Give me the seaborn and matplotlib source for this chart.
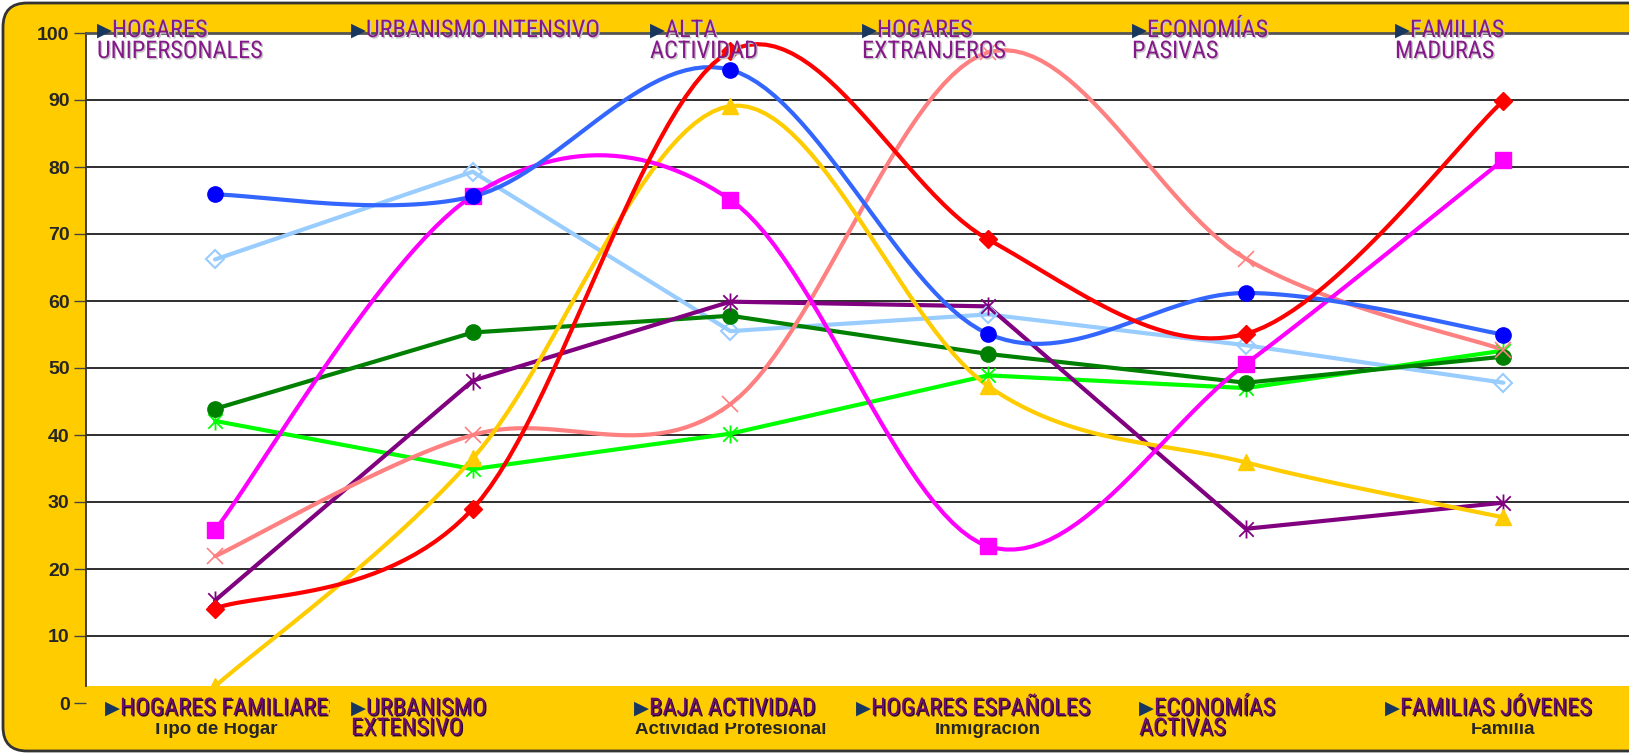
import numpy as np
import pandas as pd
import matplotlib
matplotlib.use("Agg")
import matplotlib.pyplot as plt
import seaborn as sns
from matplotlib import font_manager as fm
from matplotlib.patches import FancyBboxPatch
from matplotlib.path import Path
from matplotlib.transforms import IdentityTransform, Bbox
import matplotlib.patheffects as pe

# ---------------------------------------------------------------- data
categories = ["Tipo de Hogar", "", "Actividad Profesional", "Inmigración", "", "Familia"]

top_labels = ["HOGARES\nUNIPERSONALES", "URBANISMO INTENSIVO", "ALTA\nACTIVIDAD",
              "HOGARES\nEXTRANJEROS", "ECONOMÍAS\nPASIVAS", "FAMILIAS\nMADURAS"]
bottom_labels = ["HOGARES FAMILIARES", "URBANISMO\nEXTENSIVO", "BAJA ACTIVIDAD",
                 "HOGARES ESPAÑOLES", "ECONOMÍAS\nACTIVAS", "FAMILIAS JÓVENES"]

serie_roja = [14.1, 29.0, 97.3, 69.2, 55.1, 89.9]
serie_azul = [75.9, 75.6, 94.5, 55.1, 61.2, 55.0]
serie_celeste = [66.2, 79.3, 55.5, 58.0, 53.4, 47.8]
serie_magenta = [25.8, 75.7, 75.1, 23.4, 50.6, 81.1]
serie_salmon = [21.9, 40.0, 44.6, 97.1, 66.3, 52.7]
serie_amarilla = [2.5, 36.5, 89.1, 47.3, 35.9, 27.7]
serie_morada = [15.3, 48.1, 59.9, 59.2, 26.0, 29.9]
serie_verde = [43.9, 55.3, 57.8, 52.1, 47.8, 51.7]
serie_verde_claro = [42.1, 34.9, 40.2, 48.9, 47.0, 52.6]

# ---------------------------------------------------------------- fonts
sns.set_style("white")
plt.rcParams["font.family"] = ["Liberation Sans", "DejaVu Sans"]


def pick_narrow():
    prefs = ["Liberation Sans Narrow", "Roboto Condensed", "Open Sans Condensed"]
    by_name = {}
    for f in fm.fontManager.ttflist:
        if f.style == "normal":
            by_name.setdefault(f.name, []).append(f)
    for name in prefs:
        if name in by_name:
            regs = sorted(by_name[name], key=lambda f: abs(int(f.weight) - 400)
                          if str(f.weight).isdigit() else 0)
            return regs[0].fname
    for f in fm.fontManager.ttflist:
        if ("Condensed" in f.fname or "Narrow" in f.fname) and "Bold" not in f.fname \
                and "Italic" not in f.fname:
            return f.fname
    return None


narrow_path = pick_narrow()


def label_font(size):
    if narrow_path:
        return fm.FontProperties(fname=narrow_path, size=size)
    return fm.FontProperties(family="Liberation Sans", size=size * 0.82)


# ---------------------------------------------------------------- figure
W, H = 1629, 754
YELLOW = "#FFCC00"
fig = plt.figure(figsize=(W / 100, H / 100), dpi=100)
fig.patch.set_facecolor("white")

frame = FancyBboxPatch((3, 3), W + 80, H - 6,
                       boxstyle="round,pad=0,rounding_size=24",
                       transform=IdentityTransform(), facecolor=YELLOW,
                       edgecolor="#333333", linewidth=2, zorder=-1)
fig.add_artist(frame)

x_left, x_right = 86.2, 1632.3
y_top, y_bot = 33.0, 703.0
ax = fig.add_axes([x_left / W, (H - y_bot) / H, (x_right - x_left) / W, (y_bot - y_top) / H])
ax.set_facecolor("white")
ax.set_xlim(-0.5, 5.5)
ax.set_ylim(0, 100)

xpos = np.arange(len(categories))


def smooth(xv, yv, steps=30):
    p = np.column_stack([xv, yv]).astype(float)
    n = len(p)
    out = [p[0]]
    t = np.linspace(0, 1, steps)[1:, None]
    for i in range(n - 1):
        p0, p1, p2, p3 = p[max(i - 1, 0)], p[i], p[i + 1], p[min(i + 2, n - 1)]
        c1 = p1 + (p2 - p0) / 6
        c2 = p2 - (p3 - p1) / 6
        seg = (1 - t) ** 3 * p1 + 3 * (1 - t) ** 2 * t * c1 + 3 * (1 - t) * t ** 2 * c2 + t ** 3 * p2
        out.extend(seg)
    return np.array(out)


star = Path([(-1, -1), (1, 1), (-1, 1), (1, -1), (0, -1.25), (0, 1.25)],
            [Path.MOVETO, Path.LINETO] * 3)

series = [
    (serie_celeste, dict(color="#99CCFF", smooth=False, marker="D", ms=9, mfc="none", mec="#99CCFF", mew=1.5)),
    (serie_verde_claro, dict(color="#00FF00", smooth=False, marker=star, ms=13, mfc="none", mec="#00FF00", mew=1.3)),
    (serie_verde, dict(color="#008000", smooth=False, marker="o", ms=11, mfc="#008000", mec="#008000", mew=1)),
    (serie_morada, dict(color="#800080", smooth=False, marker=star, ms=13, mfc="none", mec="#800080", mew=1.3)),
    (serie_salmon, dict(color="#FF8080", smooth=True, marker="x", ms=11, mfc="none", mec="#FF8080", mew=1.2)),
    (serie_amarilla, dict(color="#FFCC00", smooth=True, marker="^", ms=12, mfc="#FFCC00", mec="#FFCC00", mew=1)),
    (serie_magenta, dict(color="#FF00FF", smooth=True, marker="s", ms=11, mfc="#FF00FF", mec="#FF00FF", mew=1)),
    (serie_azul, dict(color="#3366FF", smooth=True, marker="o", ms=11, mfc="#0000FF", mec="#0000FF", mew=1)),
    (serie_roja, dict(color="#FF0000", smooth=True, marker="D", ms=9, mfc="#FF0000", mec="#FF0000", mew=1)),
]

for values, st in series:
    if st["smooth"]:
        curve = smooth(xpos, values)
        cx, cy = curve[:, 0], curve[:, 1]
    else:
        cx, cy = xpos, np.asarray(values, float)
    sns.lineplot(x=cx, y=cy, ax=ax, color=st["color"], linewidth=3.0,
                 sort=False, estimator=None, legend=False, zorder=2)
    ax.plot(xpos, values, linestyle="none", marker=st["marker"], markersize=st["ms"],
            markerfacecolor=st["mfc"], markeredgecolor=st["mec"],
            markeredgewidth=st["mew"], zorder=2.05)

# yellow strip along the bottom of the plot area
ax.axhspan(0, 2.5, color=YELLOW, lw=0, zorder=2.2)

# axes styling
ax.set_yticks(np.arange(0, 101, 10))
ax.set_yticklabels([str(v) for v in range(0, 101, 10)], fontweight="bold", fontsize=14)
ax.yaxis.grid(True, color="#1e1e1e", linewidth=1.3)
ax.xaxis.grid(False)
ax.set_axisbelow(True)
ax.tick_params(axis="y", length=9, width=1, color="#444444", pad=3, left=True)
ax.set_xticks(xpos)
ax.set_xticklabels(categories, fontweight="bold", fontsize=13.5)
ax.tick_params(axis="x", length=0, pad=13)
for side in ("bottom", "right"):
    ax.spines[side].set_visible(False)
ax.spines["top"].set_color("#555555")
ax.spines["top"].set_linewidth(2)
ax.spines["left"].set_color("#333333")
ax.spines["left"].set_linewidth(1.3)
ax.spines["left"].set_bounds(2.5, 100)

# category names are partly tucked under the label row
clip_cat = Bbox.from_extents(0, 0, W, H - 723)
for lab in ax.get_xticklabels():
    lab.set_clip_box(clip_cat)
    lab.set_clip_on(True)


# ---------------------------------------------------------------- label rows
def fx(x):
    return x / W


def fy(y):
    return 1 - y / H


def draw_label(text, x, base1, pitch, fill, shadow, size, clip=None):
    lines = text.split("\n")
    fp = label_font(size)
    effects = [pe.SimplePatchShadow(offset=(1, -1), shadow_rgbFace=shadow, alpha=1.0), pe.Normal()]
    fig.text(fx(x), fy(base1 - 1), "▶", color="#17375E", fontsize=14,
             family=["DejaVu Sans"], ha="left", va="baseline")
    for i, line in enumerate(lines):
        lx = x + 15 if i == 0 else x
        t = fig.text(fx(lx), fy(base1 + i * pitch), line, color=fill, fontproperties=fp,
                     ha="left", va="baseline", path_effects=effects)
        if clip is not None:
            t.set_clip_box(clip)
            t.set_clip_on(True)


top_x = [97, 351, 650, 862, 1132, 1395]
for txt, x in zip(top_labels, top_x):
    draw_label(txt, x, 37, 21, "#86198A", "#C4C4C4", 17.5)

bottom_x = [105, 351, 634, 856, 1139, 1385]
clip_first = Bbox.from_extents(0, 0, 330, H)
for i, (txt, x) in enumerate(zip(bottom_labels, bottom_x)):
    draw_label(txt, x, 715, 20, "#6E0B70", "#2A0A2A", 17.5,
               clip=clip_first if i == 0 else None)

fig.savefig("out.png", dpi=100, facecolor=fig.get_facecolor())
